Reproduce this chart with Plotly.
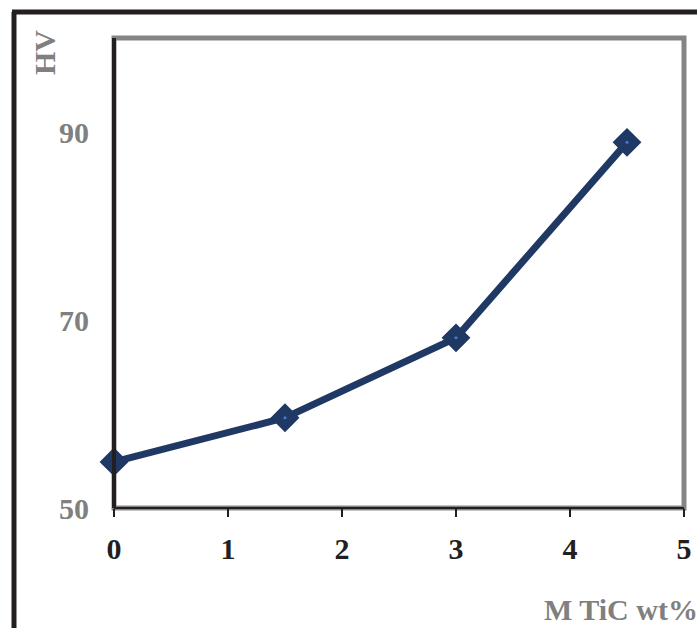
import plotly.graph_objects as go

x_vals = [0, 1.5, 3, 4.5]
hv_vals = [54.9, 59.6, 68.1, 88.9]
x_ticks = [0, 1, 2, 3, 4, 5]
y_ticks = [50, 70, 90]

W, H = 697, 628
L, R, T, B = 114, 13, 38, 120
pw, ph = W - L - R, H - T - B

def px_x(p):
    return (p - L) / pw

def px_y(p):
    return 1 - (p - T) / ph

FONT = "Liberation Serif"
NAVY = "#1f3864"

fig = go.Figure()
fig.add_trace(go.Scatter(
    x=x_vals, y=hv_vals, mode="lines+markers",
    line=dict(color=NAVY, width=7),
    marker=dict(symbol="diamond", size=20, color=NAVY, line=dict(color=NAVY, width=2)),
    showlegend=False, cliponaxis=False,
))
fig.add_trace(go.Scatter(
    x=x_vals, y=hv_vals, mode="markers",
    marker=dict(symbol="circle", size=3, color="#4a7bd0"),
    showlegend=False, cliponaxis=False,
))

# plot frame: gray top/right, dark left/bottom
fig.add_shape(type="rect", xref="paper", yref="paper", x0=0, x1=1, y0=0, y1=1,
              line=dict(color="#858585", width=5), layer="below")
fig.add_shape(type="line", xref="paper", yref="paper", x0=0, x1=0, y0=0, y1=1,
              line=dict(color="#231f20", width=4))
fig.add_shape(type="line", xref="paper", yref="paper", x0=0, x1=1, y0=0, y1=0,
              line=dict(color="#231f20", width=2))

# outer black frame (left and top visible)
fig.add_shape(type="line", xref="paper", yref="paper",
              x0=px_x(14), x1=px_x(14), y0=px_y(640), y1=px_y(12),
              line=dict(color="#231f20", width=5))
fig.add_shape(type="line", xref="paper", yref="paper",
              x0=px_x(12), x1=px_x(710), y0=px_y(12), y1=px_y(12),
              line=dict(color="#231f20", width=5))

fig.update_xaxes(range=[0, 5], tickvals=x_ticks, ticks="outside", ticklen=8,
                 tickwidth=2, tickcolor="#231f20", showgrid=False, zeroline=False,
                 showline=False, ticklabelstandoff=6, automargin=False,
                 tickfont=dict(family=FONT, size=30, color="#231f20", weight="bold"))
fig.update_yaxes(range=[50, 100], tickvals=y_ticks, ticks="", showgrid=False,
                 zeroline=False, showline=False, ticklabelstandoff=24, automargin=False,
                 tickfont=dict(family=FONT, size=30, color="#808080", weight="bold"))

fig.add_annotation(text="M TiC wt%", xref="paper", yref="paper",
                   x=px_x(700), y=px_y(609), xanchor="right", yanchor="middle",
                   showarrow=False,
                   font=dict(family=FONT, size=30, color="#808080", weight="bold"))
fig.add_annotation(text="HV", xref="paper", yref="paper",
                   x=px_x(44), y=px_y(53), xanchor="center", yanchor="middle",
                   textangle=-90, showarrow=False,
                   font=dict(family=FONT, size=30, color="#808080", weight="bold"))

fig.update_layout(width=W, height=H, margin=dict(l=L, r=R, t=T, b=B),
                  plot_bgcolor="white", paper_bgcolor="white")
fig.write_html("out.html", config={"displayModeBar": False},
               post_script="document.body.style.margin='0';document.body.style.overflow='hidden';")
